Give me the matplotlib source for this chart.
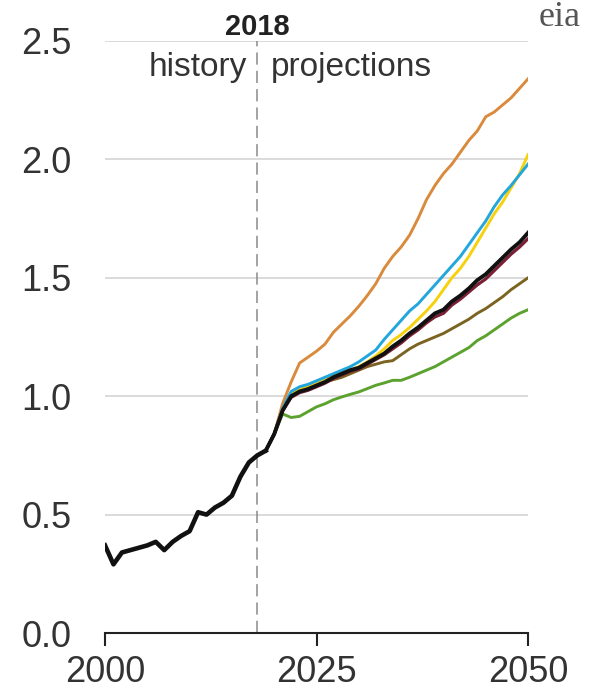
import numpy as np
import matplotlib
matplotlib.use('Agg')
import matplotlib.pyplot as plt

plt.rcParams['font.family'] = ['Liberation Sans', 'DejaVu Sans']

# history (2000-2019)
hist_years = list(range(2000, 2020))
hist = [0.37, 0.29, 0.34, 0.35, 0.36, 0.37, 0.385, 0.35, 0.385, 0.41,
        0.43, 0.51, 0.50, 0.53, 0.55, 0.58, 0.66, 0.72, 0.75, 0.77]

# projections (2019-2050)
proj_years = list(range(2019, 2051))
orange = [0.77, 0.84, 0.97, 1.06, 1.14, 1.165, 1.19, 1.22, 1.27, 1.305, 1.34,
          1.38, 1.425, 1.475, 1.54, 1.59, 1.63, 1.68, 1.75, 1.83, 1.89,
          1.94, 1.98, 2.03, 2.08, 2.12, 2.18, 2.20, 2.23, 2.26, 2.30, 2.34]
blue = [0.77, 0.84, 0.95, 1.02, 1.04, 1.05, 1.065, 1.08, 1.095, 1.11, 1.125,
        1.145, 1.17, 1.195, 1.24, 1.28, 1.32, 1.36, 1.39, 1.43, 1.47,
        1.51, 1.55, 1.59, 1.64, 1.69, 1.74, 1.80, 1.85, 1.89, 1.935, 1.98]
yellow = [0.77, 0.84, 0.95, 1.01, 1.03, 1.045, 1.06, 1.075, 1.09, 1.10, 1.11,
          1.125, 1.145, 1.17, 1.20, 1.235, 1.26, 1.29, 1.325, 1.36, 1.40,
          1.45, 1.50, 1.54, 1.59, 1.65, 1.71, 1.77, 1.82, 1.88, 1.94, 2.02]
maroon = [0.77, 0.84, 0.94, 0.995, 1.015, 1.025, 1.04, 1.055, 1.075, 1.09, 1.105,
          1.115, 1.135, 1.155, 1.175, 1.2, 1.225, 1.255, 1.28, 1.31, 1.335,
          1.35, 1.385, 1.41, 1.44, 1.47, 1.495, 1.53, 1.565, 1.6, 1.63, 1.665]
black = [0.77, 0.84, 0.94, 1.00, 1.02, 1.03, 1.045, 1.06, 1.08, 1.095, 1.11,
         1.12, 1.14, 1.16, 1.18, 1.21, 1.235, 1.265, 1.29, 1.32, 1.35,
         1.365, 1.40, 1.425, 1.455, 1.49, 1.515, 1.55, 1.585, 1.62, 1.65, 1.69]
brown = [0.77, 0.84, 0.94, 1.00, 1.02, 1.035, 1.05, 1.06, 1.07, 1.08, 1.095,
         1.11, 1.125, 1.135, 1.145, 1.15, 1.175, 1.20, 1.22, 1.235, 1.25,
         1.265, 1.285, 1.305, 1.325, 1.35, 1.37, 1.395, 1.42, 1.45, 1.475, 1.50]
green = [0.77, 0.84, 0.925, 0.91, 0.915, 0.935, 0.955, 0.968, 0.985, 0.997, 1.008,
         1.018, 1.032, 1.046, 1.056, 1.067, 1.067, 1.08, 1.095, 1.11, 1.125,
         1.145, 1.165, 1.185, 1.205, 1.235, 1.255, 1.28, 1.305, 1.33, 1.35, 1.365]

fig = plt.figure(figsize=(5.98, 6.90), dpi=100)
ax = fig.add_axes([0.1756, 0.0826, 0.7074, 0.858])

# gridlines
for v in [0.5, 1.0, 1.5, 2.0, 2.5]:
    ax.axhline(v, color='#d4d4d4', lw=1.2, zorder=1)

ax.axvline(2018, color='#8a8a8a', lw=1.1, ls=(0, (8, 4)), zorder=1)

ax.plot(proj_years, green, color='#5ca22f', lw=2.1, zorder=3)
ax.plot(proj_years, brown, color='#7b6421', lw=2.1, zorder=3)
ax.plot(proj_years, orange, color='#d98a3d', lw=2.1, zorder=3)
ax.plot(proj_years, yellow, color='#f6d10c', lw=2.1, zorder=4)
ax.plot(proj_years, blue, color='#22a6dc', lw=2.1, zorder=5)
ax.plot(proj_years, maroon, color='#7a1f35', lw=2.3, zorder=5)
ax.plot(proj_years, black, color='#111111', lw=2.8, zorder=6)
ax.plot(hist_years, hist, color='#111111', lw=3.3, zorder=6)

ax.set_xlim(2000, 2050)
ax.set_ylim(0, 2.5)
ax.set_xticks([2000, 2025, 2050])
ax.set_yticks([0.0, 0.5, 1.0, 1.5, 2.0, 2.5])
ax.set_yticklabels(['0.0', '0.5', '1.0', '1.5', '2.0', '2.5'])

for s in ['top', 'right', 'left']:
    ax.spines[s].set_visible(False)
ax.spines['bottom'].set_color('#222222')
ax.spines['bottom'].set_linewidth(1.5)
ax.tick_params(axis='x', length=9, width=1.5, color='#222222', pad=7,
               labelsize=26, labelcolor='#333333')
ax.tick_params(axis='y', length=0, pad=24, labelsize=26, labelcolor='#333333')

ax.text(2018, 2.56, '2018', ha='center', va='center', fontsize=21,
        fontweight='bold', color='#222222', clip_on=False)
ax.text(2016.8, 2.39, 'history', ha='right', va='center', fontsize=24, color='#333333')
ax.text(2019.6, 2.39, 'projections', ha='left', va='center', fontsize=24, color='#333333')

# agency logo text
fig.text(0.935, 0.999, 'eia', ha='center', va='top', fontsize=26,
         family=['Liberation Serif', 'DejaVu Serif'], color='#555555')

fig.savefig('out.png', dpi=100)
